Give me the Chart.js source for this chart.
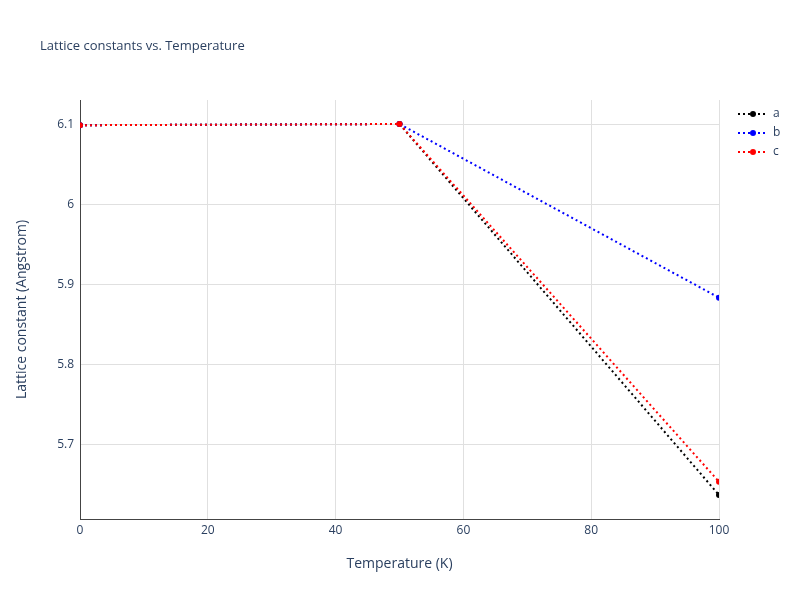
<!DOCTYPE html>
<html>
<head>
<meta charset="utf-8">
<script src="https://cdn.jsdelivr.net/npm/chart.js"></script>
<style>
  body { margin: 0; background: #fff; }
  #wrap { width: 800px; height: 600px; }
</style>
</head>
<body>
<div id="wrap"><canvas id="chart" width="800" height="600"></canvas></div>
<script>
const temperatures = [0, 50, 100];
const seriesA = [6.0995, 6.101, 5.6375];
const seriesB = [6.0995, 6.101, 5.884];
const seriesC = [6.0995, 6.101, 5.654];
const seriesNames = ['a', 'b', 'c'];
const seriesColors = ['#000000', '#0000ff', '#ff0000'];

const textColor = '#2a3f5f';
const fontFamily = '"Open Sans", sans-serif';

function toPoints(ys) {
    return temperatures.map((t, i) => ({ x: t, y: ys[i] }));
}

// title + legend drawn by hand, plotly style
const decorPlugin = {
    id: 'decor',
    afterDraw: function(chart) {
        const ctx = chart.ctx;
        ctx.save();
        ctx.fillStyle = textColor;
        ctx.font = '13px ' + fontFamily;
        ctx.textBaseline = 'middle';
        ctx.fillText('Lattice constants vs. Temperature', 40, 46);

        chart.data.datasets.forEach((ds, i) => {
            const y = 114 + i * 19;
            ctx.strokeStyle = ds.borderColor;
            ctx.lineWidth = 2;
            ctx.setLineDash([2, 3]);
            ctx.beginPath();
            ctx.moveTo(738, y);
            ctx.lineTo(768, y);
            ctx.stroke();
            ctx.setLineDash([]);
            ctx.fillStyle = ds.borderColor;
            ctx.beginPath();
            ctx.arc(753, y, 3, 0, Math.PI * 2);
            ctx.fill();
            ctx.fillStyle = textColor;
            ctx.font = '12px ' + fontFamily;
            ctx.fillText(ds.label, 773, y);
        });
        ctx.restore();
    }
};

new Chart(document.getElementById('chart'), {
    type: 'line',
    data: {
        datasets: [seriesA, seriesB, seriesC].map((ys, i) => ({
            label: seriesNames[i],
            data: toPoints(ys),
            order: 2 - i, // later series on top, like plotly
            borderColor: seriesColors[i],
            backgroundColor: seriesColors[i],
            borderWidth: 2,
            borderDash: [2, 3],
            pointRadius: 3,
            pointBorderWidth: 0,
            pointHoverRadius: 3,
            tension: 0
        }))
    },
    options: {
        responsive: false,
        animation: false,
        layout: { padding: { top: 100, right: 81, left: 0, bottom: 0 } },
        plugins: { legend: { display: false }, tooltip: { enabled: false } },
        scales: {
            x: {
                type: 'linear',
                min: 0,
                max: 100,
                ticks: { stepSize: 20, color: textColor, font: { family: fontFamily, size: 12 }, padding: 4 },
                grid: { color: '#e0e0e0', drawTicks: false },
                border: { color: '#444', width: 1 },
                title: { display: true, text: 'Temperature (K)', color: textColor, font: { family: fontFamily, size: 14 }, padding: { top: 0, bottom: 28 } },
                afterFit: function(scale) { scale.height = 81; }
            },
            y: {
                type: 'linear',
                min: 5.6075,
                max: 6.131,
                ticks: {
                    color: textColor,
                    font: { family: fontFamily, size: 12 },
                    padding: 6,
                    callback: v => Number(v.toFixed(1)).toString()
                },
                afterBuildTicks: function(scale) {
                    const ticks = [];
                    for (let v = 5.7; v <= 6.1 + 1e-9; v += 0.1) ticks.push({ value: Number(v.toFixed(1)) });
                    scale.ticks = ticks;
                },
                grid: { color: '#e0e0e0', drawTicks: false },
                border: { color: '#444', width: 1 },
                title: { display: true, text: 'Lattice constant (Angstrom)', color: textColor, font: { family: fontFamily, size: 14 }, padding: { top: 14, bottom: 0 } },
                afterFit: function(scale) { scale.width = 80; }
            }
        }
    },
    plugins: [decorPlugin]
});
</script>
</body>
</html>
